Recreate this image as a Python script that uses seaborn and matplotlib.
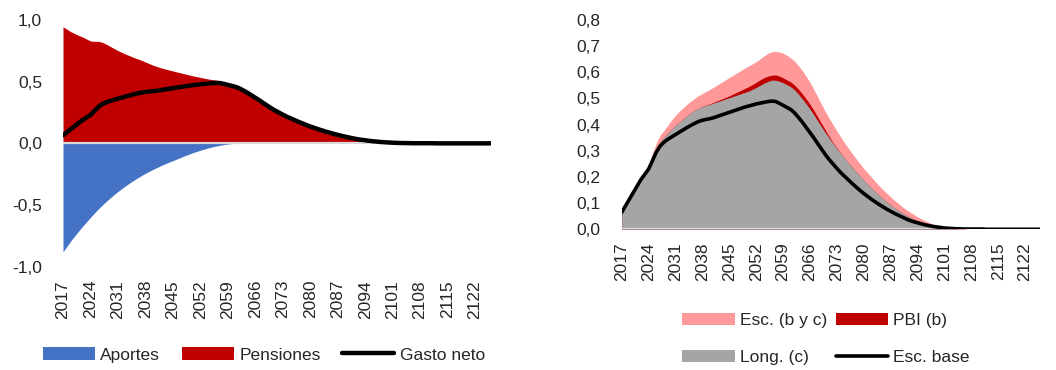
import numpy as np
import pandas as pd
import matplotlib
matplotlib.use("Agg")
import matplotlib.pyplot as plt
from matplotlib.patches import Patch
from matplotlib.lines import Line2D
import seaborn as sns

# ---------------------------------------------------------------------------
# Data: annual values, % of GDP, 2017-2126
# ---------------------------------------------------------------------------
years = list(range(2017, 2127))
tick_years = list(range(2017, 2123, 7))

# Left panel
aportes = [
    -0.880, -0.835, -0.790, -0.750, -0.710, -0.672, -0.636, -0.600, -0.565, -0.532,
    -0.501, -0.471, -0.443, -0.416, -0.390, -0.366, -0.343, -0.321, -0.300, -0.280,
    -0.261, -0.243, -0.226, -0.210, -0.195, -0.180, -0.166, -0.153, -0.140, -0.127,
    -0.114, -0.101, -0.089, -0.077, -0.066, -0.056, -0.046, -0.037, -0.029, -0.022,
    -0.016, -0.010, -0.005, -0.002, 0.000, 0.000, 0.000, 0.000, 0.000, 0.000,
    0.000, 0.000, 0.000, 0.000, 0.000, 0.000, 0.000, 0.000, 0.000, 0.000,
    0.000, 0.000, 0.000, 0.000, 0.000, 0.000, 0.000, 0.000, 0.000, 0.000,
    0.000, 0.000, 0.000, 0.000, 0.000, 0.000, 0.000, 0.000, 0.000, 0.000,
    0.000, 0.000, 0.000, 0.000, 0.000, 0.000, 0.000, 0.000, 0.000, 0.000,
    0.000, 0.000, 0.000, 0.000, 0.000, 0.000, 0.000, 0.000, 0.000, 0.000,
    0.000, 0.000, 0.000, 0.000, 0.000, 0.000, 0.000, 0.000, 0.000, 0.000,
]
pensiones = [
    0.945, 0.925, 0.905, 0.890, 0.875, 0.862, 0.846, 0.830, 0.827, 0.827,
    0.819, 0.804, 0.787, 0.769, 0.752, 0.737, 0.723, 0.710, 0.697, 0.685,
    0.673, 0.660, 0.646, 0.633, 0.622, 0.612, 0.603, 0.595, 0.587, 0.579,
    0.571, 0.563, 0.556, 0.548, 0.541, 0.535, 0.528, 0.522, 0.517, 0.512,
    0.505, 0.492, 0.479, 0.468, 0.458, 0.445, 0.428, 0.410, 0.390, 0.370,
    0.350, 0.328, 0.307, 0.286, 0.267, 0.250, 0.233, 0.217, 0.203, 0.189,
    0.175, 0.162, 0.149, 0.137, 0.126, 0.115, 0.105, 0.095, 0.086, 0.077,
    0.069, 0.061, 0.054, 0.047, 0.040, 0.034, 0.029, 0.025, 0.021, 0.017,
    0.014, 0.011, 0.009, 0.007, 0.005, 0.004, 0.003, 0.002, 0.002, 0.001,
    0.001, 0.001, 0.001, 0.001, 0.001, 0.000, 0.000, 0.000, 0.000, 0.000,
    0.000, 0.000, 0.000, 0.000, 0.000, 0.000, 0.000, 0.000, 0.000, 0.000,
]
gasto_neto = [
    0.065, 0.090, 0.115, 0.140, 0.165, 0.190, 0.210, 0.230, 0.262, 0.295,
    0.318, 0.333, 0.344, 0.353, 0.362, 0.371, 0.380, 0.389, 0.397, 0.405,
    0.412, 0.417, 0.420, 0.423, 0.427, 0.432, 0.437, 0.442, 0.447, 0.452,
    0.457, 0.462, 0.467, 0.471, 0.475, 0.479, 0.482, 0.485, 0.488, 0.490,
    0.489, 0.482, 0.474, 0.466, 0.458, 0.445, 0.428, 0.410, 0.390, 0.370,
    0.350, 0.328, 0.307, 0.286, 0.267, 0.250, 0.233, 0.217, 0.203, 0.189,
    0.175, 0.162, 0.149, 0.137, 0.126, 0.115, 0.105, 0.095, 0.086, 0.077,
    0.069, 0.061, 0.054, 0.047, 0.040, 0.034, 0.029, 0.025, 0.021, 0.017,
    0.014, 0.011, 0.009, 0.007, 0.005, 0.004, 0.003, 0.002, 0.002, 0.001,
    0.001, 0.001, 0.001, 0.001, 0.001, 0.000, 0.000, 0.000, 0.000, 0.000,
    0.000, 0.000, 0.000, 0.000, 0.000, 0.000, 0.000, 0.000, 0.000, 0.000,
]

# Right panel: sensitivity scenarios
esc_b_y_c = [
    0.065, 0.090, 0.115, 0.142, 0.168, 0.194, 0.220, 0.245, 0.290, 0.330,
    0.360, 0.378, 0.398, 0.418, 0.436, 0.451, 0.465, 0.478, 0.490, 0.501,
    0.511, 0.519, 0.527, 0.535, 0.544, 0.553, 0.562, 0.571, 0.580, 0.589,
    0.598, 0.607, 0.616, 0.624, 0.632, 0.641, 0.651, 0.662, 0.672, 0.678,
    0.680, 0.678, 0.673, 0.665, 0.655, 0.643, 0.626, 0.607, 0.585, 0.562,
    0.535, 0.507, 0.478, 0.450, 0.425, 0.400, 0.376, 0.353, 0.331, 0.310,
    0.290, 0.270, 0.251, 0.233, 0.216, 0.199, 0.183, 0.167, 0.152, 0.138,
    0.124, 0.111, 0.099, 0.087, 0.076, 0.066, 0.057, 0.048, 0.040, 0.033,
    0.026, 0.020, 0.015, 0.011, 0.008, 0.005, 0.003, 0.002, 0.001, 0.001,
    0.000, 0.000, 0.000, 0.000, 0.000, 0.000, 0.000, 0.000, 0.000, 0.000,
    0.000, 0.000, 0.000, 0.000, 0.000, 0.000, 0.000, 0.000, 0.000, 0.000,
]
pbi_b = [
    0.065, 0.090, 0.115, 0.140, 0.165, 0.190, 0.213, 0.235, 0.275, 0.310,
    0.335, 0.352, 0.368, 0.383, 0.397, 0.410, 0.422, 0.434, 0.445, 0.455,
    0.463, 0.470, 0.475, 0.480, 0.486, 0.492, 0.498, 0.504, 0.510, 0.517,
    0.524, 0.531, 0.538, 0.545, 0.553, 0.562, 0.571, 0.579, 0.585, 0.589,
    0.590, 0.586, 0.579, 0.571, 0.563, 0.551, 0.536, 0.518, 0.499, 0.478,
    0.455, 0.430, 0.405, 0.380, 0.355, 0.332, 0.311, 0.291, 0.272, 0.254,
    0.237, 0.220, 0.204, 0.188, 0.173, 0.158, 0.144, 0.130, 0.117, 0.105,
    0.093, 0.082, 0.072, 0.063, 0.054, 0.046, 0.039, 0.033, 0.027, 0.022,
    0.018, 0.014, 0.011, 0.008, 0.006, 0.004, 0.003, 0.002, 0.001, 0.001,
    0.000, 0.000, 0.000, 0.000, 0.000, 0.000, 0.000, 0.000, 0.000, 0.000,
    0.000, 0.000, 0.000, 0.000, 0.000, 0.000, 0.000, 0.000, 0.000, 0.000,
]
long_c = [
    0.065, 0.090, 0.115, 0.140, 0.165, 0.190, 0.213, 0.235, 0.275, 0.310,
    0.335, 0.352, 0.368, 0.383, 0.397, 0.410, 0.422, 0.434, 0.445, 0.455,
    0.463, 0.469, 0.474, 0.478, 0.483, 0.488, 0.493, 0.498, 0.503, 0.508,
    0.513, 0.518, 0.523, 0.528, 0.535, 0.542, 0.550, 0.558, 0.565, 0.570,
    0.570, 0.566, 0.560, 0.553, 0.545, 0.533, 0.517, 0.499, 0.480, 0.460,
    0.438, 0.415, 0.392, 0.370, 0.349, 0.329, 0.309, 0.290, 0.272, 0.254,
    0.237, 0.220, 0.204, 0.188, 0.173, 0.158, 0.144, 0.130, 0.117, 0.105,
    0.093, 0.082, 0.072, 0.063, 0.054, 0.046, 0.039, 0.033, 0.027, 0.022,
    0.018, 0.014, 0.011, 0.008, 0.006, 0.004, 0.003, 0.002, 0.001, 0.001,
    0.000, 0.000, 0.000, 0.000, 0.000, 0.000, 0.000, 0.000, 0.000, 0.000,
    0.000, 0.000, 0.000, 0.000, 0.000, 0.000, 0.000, 0.000, 0.000, 0.000,
]
esc_base = gasto_neto

left_yticks = [-1.0, -0.5, 0.0, 0.5, 1.0]
right_yticks = [0.0, 0.1, 0.2, 0.3, 0.4, 0.5, 0.6, 0.7, 0.8]

# ---------------------------------------------------------------------------
# Style
# ---------------------------------------------------------------------------
sns.set_theme(style="white")
plt.rcParams["font.family"] = ["Liberation Sans", "DejaVu Sans"]
FS = 12.5
C_BLUE = "#4472C4"
C_RED = "#C00000"
C_PINK = "#FF9999"
C_GRAY = "#A5A5A5"
C_ZERO = "#D9D9D9"

df = pd.DataFrame({
    "year": years,
    "aportes": aportes,
    "pensiones": pensiones,
    "gasto_neto": gasto_neto,
    "esc": esc_b_y_c,
    "pbi": pbi_b,
    "long": long_c,
    "base": esc_base,
})

fig = plt.figure(figsize=(10.56, 3.70), dpi=100)
W, H = 1056, 370


def frac_axes(x0, x1, ytop, ybot):
    return fig.add_axes([x0 / W, 1 - ybot / H, (x1 - x0) / W, (ybot - ytop) / H])


def dec(v):
    return f"{v:.1f}".replace(".", ",")


def style_axes(ax, yticks):
    ax.set_xlim(years[0], years[-1])
    ax.set_xticks(tick_years)
    ax.set_xticklabels([str(y) for y in tick_years], rotation=90, fontsize=FS)
    ax.set_yticks(yticks)
    ax.set_yticklabels([dec(v) for v in yticks], fontsize=FS)
    ax.tick_params(axis="y", length=0, pad=15)
    ax.tick_params(axis="x", length=0, pad=9.5)
    for s in ax.spines.values():
        s.set_visible(False)
    ax.grid(False)
    ax.set_xlabel("")
    ax.set_ylabel("")


# ---------------- Left panel: contributions, pensions, net spending --------
axL = frac_axes(63, 490.7, 20, 266.7)
axL.fill_between(df["year"], 0, df["pensiones"], color=C_RED, lw=0, zorder=1)
axL.fill_between(df["year"], 0, df["aportes"], color=C_BLUE, lw=0, zorder=1)
axL.axhline(0, color=C_ZERO, lw=1.6, zorder=2)
sns.lineplot(data=df, x="year", y="gasto_neto", ax=axL, color="black",
             lw=3.2, zorder=3, legend=False)
axL.lines[-1].set_solid_capstyle("round")
axL.set_ylim(-1.0, 1.0)
style_axes(axL, left_yticks)

handlesL = [
    Patch(facecolor=C_BLUE, edgecolor="none", label="Aportes"),
    Patch(facecolor=C_RED, edgecolor="none", label="Pensiones"),
    Line2D([], [], color="black", lw=3.2, solid_capstyle="round", label="Gasto neto"),
]
fig.legend(handles=handlesL, loc="center", bbox_to_anchor=(264 / W, 1 - 355 / H),
           ncol=3, frameon=False, fontsize=FS, handlelength=3.0,
           handletextpad=0.3, columnspacing=1.25, borderpad=0)

# ---------------- Right panel: sensitivity scenarios ------------------------
axR = frac_axes(621.7, 1040.4, 20, 229.3)
axR.fill_between(df["year"], 0, df["esc"], color=C_PINK, lw=0, zorder=1)
axR.fill_between(df["year"], 0, df["pbi"], color=C_RED, lw=0, zorder=1)
axR.fill_between(df["year"], 0, df["long"], color=C_GRAY, lw=0, zorder=1)
axR.axhline(0, color=C_ZERO, lw=1.6, zorder=2)
sns.lineplot(data=df, x="year", y="base", ax=axR, color="black",
             lw=2.6, zorder=3, legend=False)
axR.lines[-1].set_solid_capstyle("round")
axR.set_ylim(0.0, 0.8)
style_axes(axR, right_yticks)

handlesR = [
    Patch(facecolor=C_PINK, edgecolor="none", label="Esc. (b y c)"),
    Patch(facecolor=C_GRAY, edgecolor="none", label="Long. (c)"),
    Patch(facecolor=C_RED, edgecolor="none", label="PBI (b)"),
    Line2D([], [], color="black", lw=2.6, solid_capstyle="round", label="Esc. base"),
]
fig.legend(handles=handlesR, loc="center", bbox_to_anchor=(826 / W, 1 - 339 / H),
           ncol=2, frameon=False, fontsize=FS, handlelength=3.0,
           handletextpad=0.3, columnspacing=0.5, labelspacing=1.3, borderpad=0)

fig.savefig("out.png", dpi=100)
